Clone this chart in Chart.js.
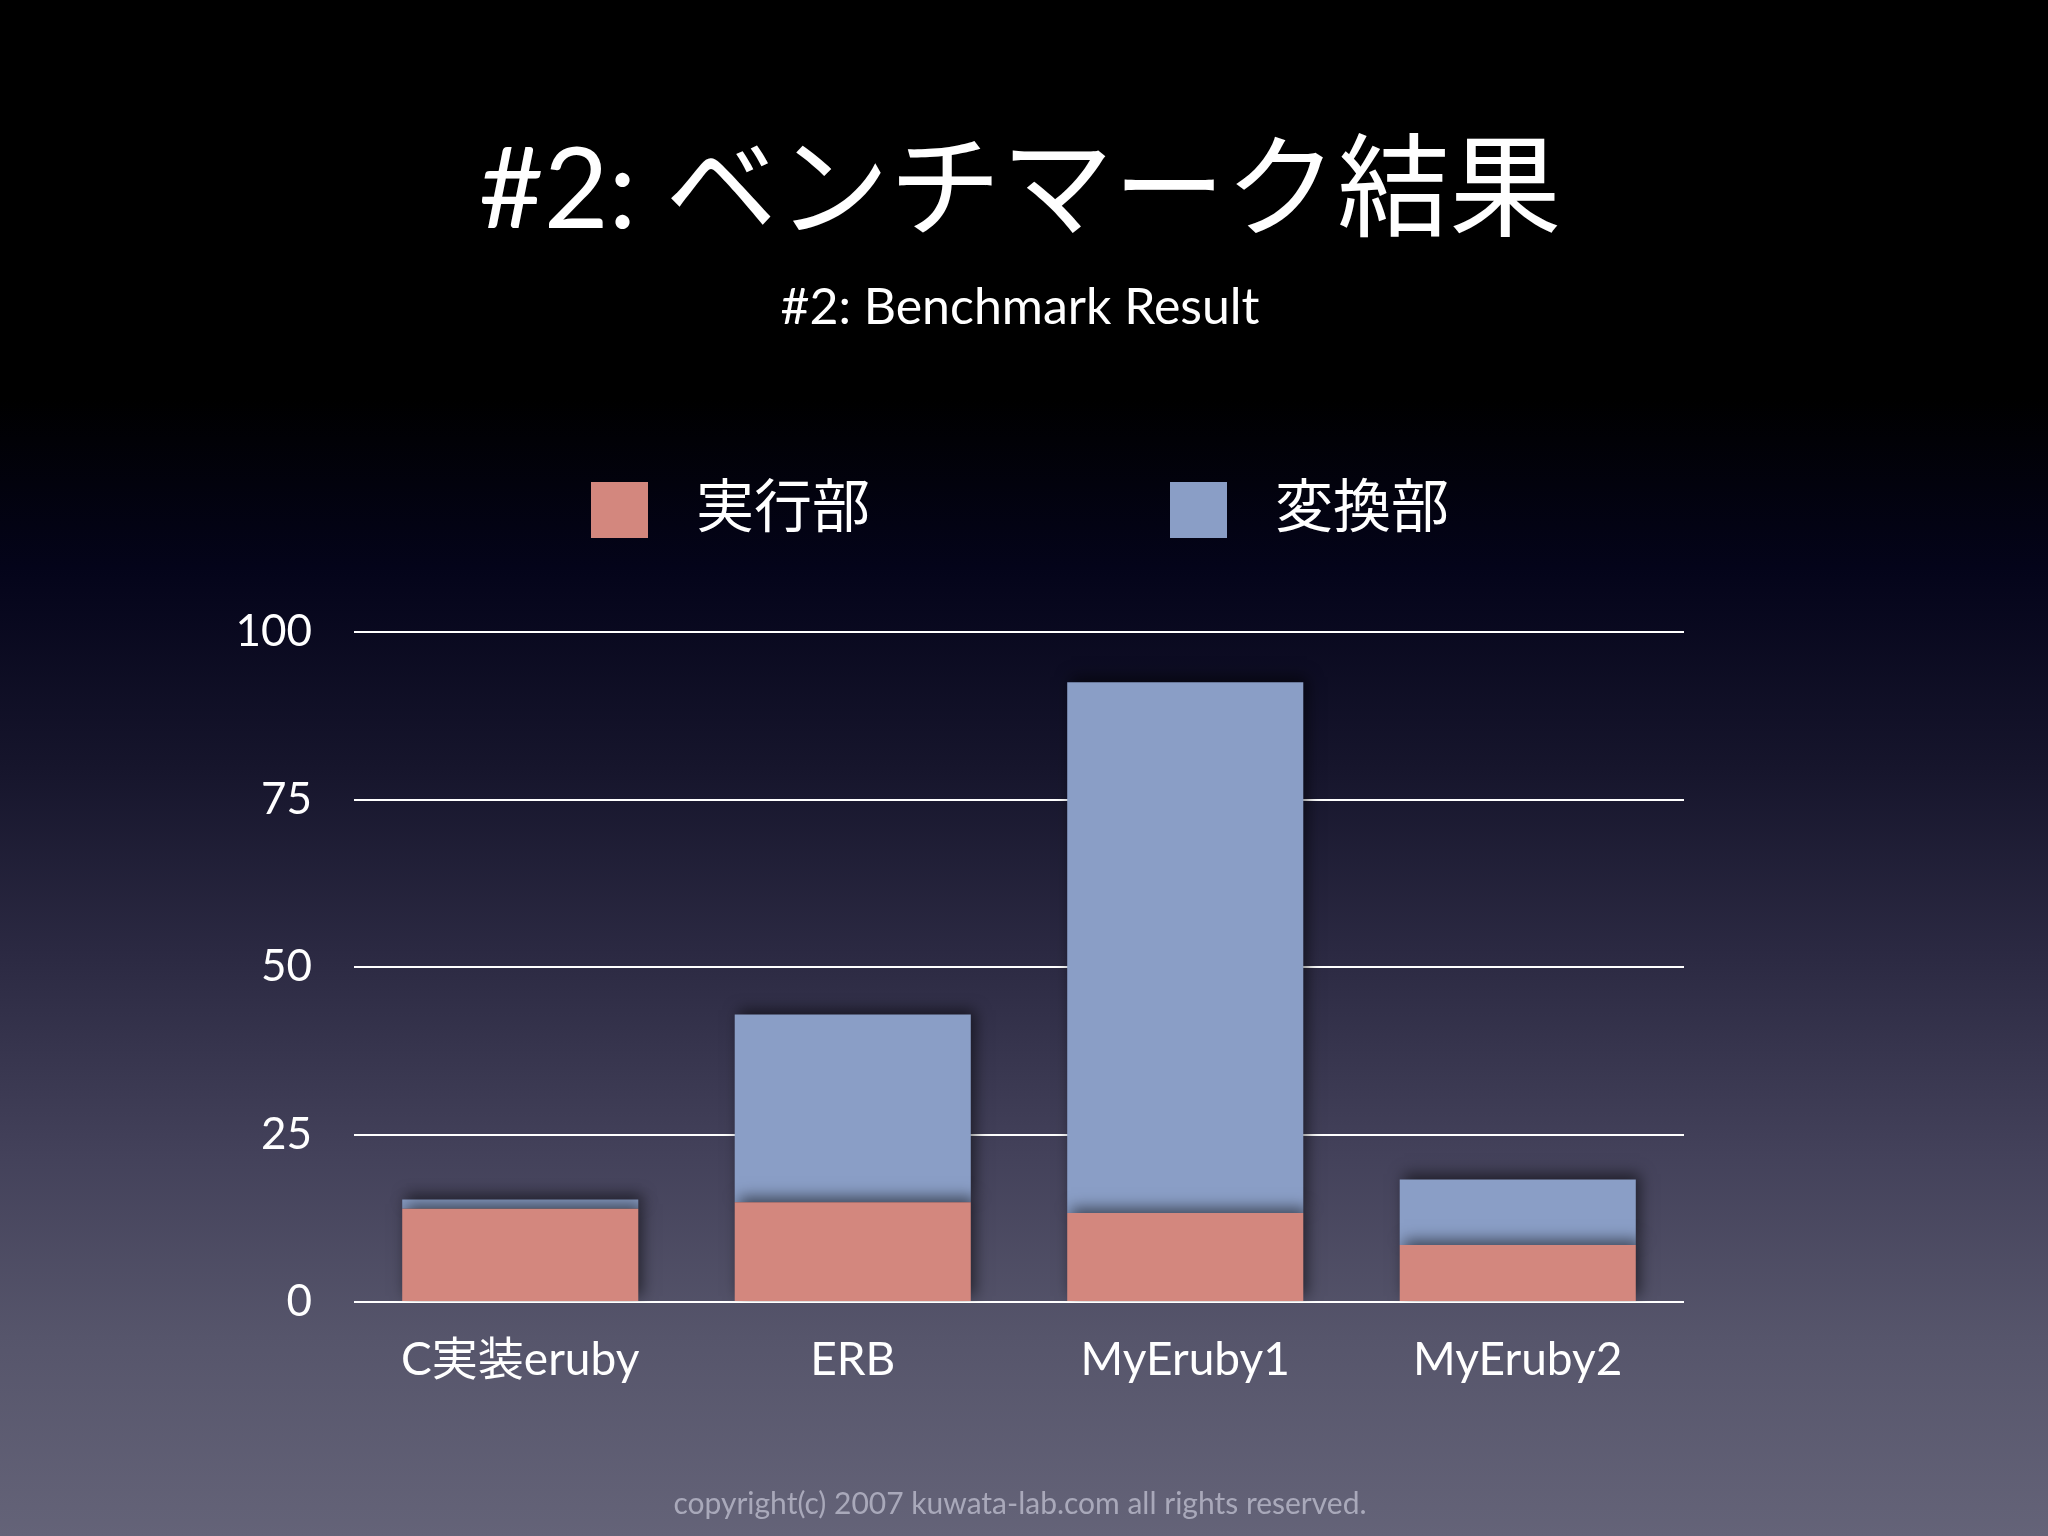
<!DOCTYPE html>
<html lang="ja">

<head>
  <meta charset="UTF-8">
  <meta name="viewport" content="width=device-width, initial-scale=1.0">
  <title>#2: Benchmark Result</title>
  <style>
    html, body {
      margin: 0;
      padding: 0;
      background: #000;
    }
    #chart {
      display: block;
    }
  </style>
</head>

<body>
  <canvas id="chart" width="2048" height="1536"></canvas>
</body>
<script src="https://cdn.jsdelivr.net/npm/chart.js@4.4.1/dist/chart.umd.min.js"></script>

<script>
const labels = ['C実装eruby', 'ERB', 'MyEruby1', 'MyEruby2']
const seriesNames = ['実行部', '変換部']
// bottom segment (red) and top segment (blue), in %
const execPart = [13.9, 14.9, 13.3, 8.5]
const convPart = [1.4, 28.0, 79.2, 9.8]
const yTicks = [0, 25, 50, 75, 100]

const titleText = '#2: ベンチマーク結果'
const subtitleText = '#2: Benchmark Result'
const footerText = 'copyright(c) 2007 kuwata-lab.com all rights reserved.'

const RED = '#d3877e'
const BLUE = '#8a9ec6'
const LATIN = "Lato, 'Noto Sans CJK JP', sans-serif"

// slide background + title, legend and footer
const slide = {
  id: 'slide',
  beforeDraw(chart) {
    const { ctx, width, height } = chart
    const g = ctx.createLinearGradient(0, 0, 0, height)
    g.addColorStop(0, '#000000')
    g.addColorStop(0.26, '#000000')
    g.addColorStop(0.37, '#04041a')
    g.addColorStop(0.5, '#16152c')
    g.addColorStop(0.62, '#2b2942')
    g.addColorStop(0.75, '#43415a')
    g.addColorStop(0.87, '#56556b')
    g.addColorStop(1, '#646378')
    ctx.save()
    ctx.fillStyle = g
    ctx.fillRect(0, 0, width, height)
    ctx.restore()
  },
  afterDraw(chart) {
    const { ctx } = chart
    ctx.save()
    ctx.fillStyle = '#ffffff'
    ctx.textAlign = 'center'
    ctx.textBaseline = 'middle'
    ctx.font = `112px ${LATIN}`
    ctx.fillText(titleText, 1020, 192)
    ctx.font = `50px ${LATIN}`
    ctx.fillText(subtitleText, 1020, 308)

    // legend
    const boxX = [591, 1170]
    chart.data.datasets.forEach((ds, i) => {
      ctx.fillStyle = ds.backgroundColor
      ctx.fillRect(boxX[i], 482, 57, 56)
      ctx.fillStyle = '#ffffff'
      ctx.textAlign = 'left'
      ctx.font = `58px 'Noto Sans CJK JP', sans-serif`
      ctx.fillText(ds.label, boxX[i] + 105, 505)
    })

    ctx.textAlign = 'center'
    ctx.fillStyle = 'rgba(200, 200, 215, 0.7)'
    ctx.font = `30px ${LATIN}`
    ctx.fillText(footerText, 1020, 1504)
    ctx.restore()
  }
}

// soft drop shadow on the bars
const barShadow = {
  id: 'barShadow',
  beforeDatasetsDraw(chart) {
    const { ctx } = chart
    ctx.save()
    ctx.shadowColor = 'rgba(0, 0, 0, 0.55)'
    ctx.shadowBlur = 14
    ctx.shadowOffsetX = 4
    ctx.shadowOffsetY = -5
  },
  afterDatasetsDraw(chart) {
    chart.ctx.restore()
  }
}

const ctx = document.getElementById('chart').getContext('2d')

const chart = new Chart(ctx, {
  type: 'bar',
  data: {
    labels,
    datasets: [{
      label: seriesNames[0],
      data: execPart,
      backgroundColor: RED,
      borderWidth: 0
    }, {
      label: seriesNames[1],
      data: convPart,
      backgroundColor: BLUE,
      borderWidth: 0
    }]
  },
  options: {
    responsive: false,
    devicePixelRatio: 1,
    animation: false,
    layout: {
      padding: { top: 632, left: 234, right: 364, bottom: 134 }
    },
    datasets: {
      bar: {
        categoryPercentage: 1,
        barPercentage: 0.71
      }
    },
    plugins: {
      legend: { display: false },
      title: { display: false },
      tooltip: { enabled: false }
    },
    scales: {
      x: {
        stacked: true,
        afterFit(s) { s.height = 100 },
        grid: { display: false },
        border: { display: false },
        ticks: {
          color: '#ffffff',
          padding: 23,
          font: { family: LATIN, size: 46 }
        }
      },
      y: {
        stacked: true,
        min: 0,
        max: 100,
        afterFit(s) { s.width = 120 },
        afterBuildTicks(s) { s.ticks = yTicks.map(v => ({ value: v })) },
        grid: {
          color: '#ffffff',
          lineWidth: 2,
          drawTicks: false
        },
        border: { display: false },
        ticks: {
          color: '#ffffff',
          padding: 42,
          font: { family: LATIN, size: 44 }
        }
      }
    }
  },
  plugins: [slide, barShadow]
})
</script>

</html>
